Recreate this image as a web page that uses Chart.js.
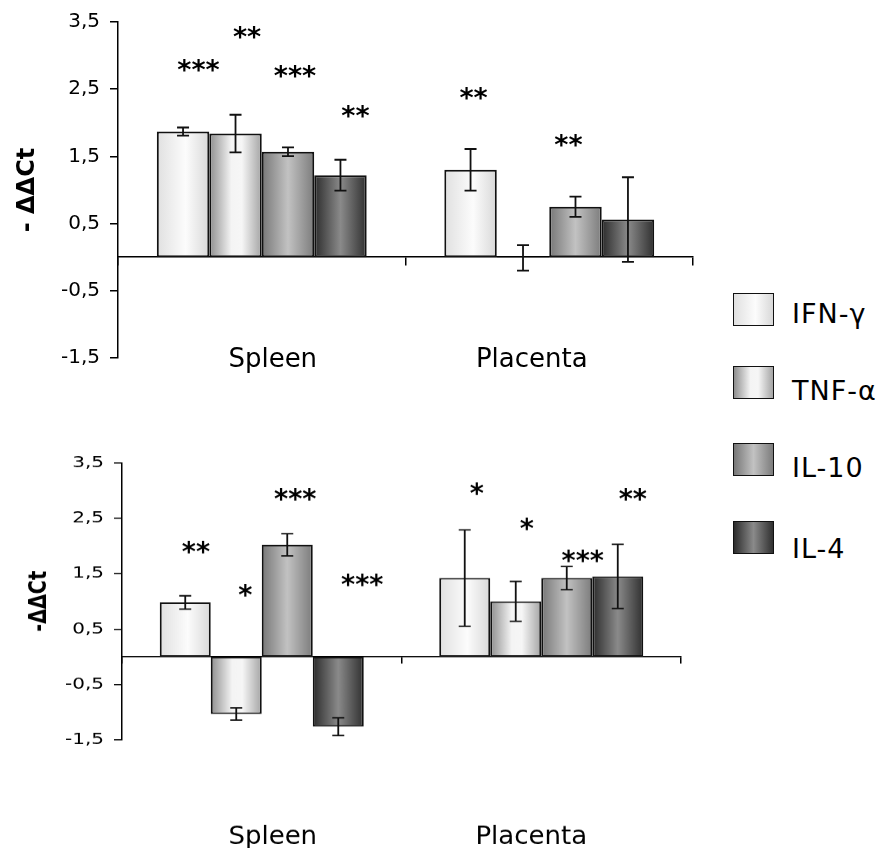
<!DOCTYPE html>
<html>
<head>
<meta charset="utf-8">
<script src="https://cdn.jsdelivr.net/npm/chart.js@4/dist/chart.umd.min.js"></script>
<style>
  html, body { margin: 0; padding: 0; background: #fff; }
  body { width: 878px; height: 848px; position: relative; overflow: hidden; }
  .panel { position: absolute; left: 0; }
  #upperWrap { top: 0; }
  #lowerWrap { top: 440px; transform: scaleY(0.8); transform-origin: 0 0; }
  .key { position: absolute; left: 733px; width: 41px; height: 33px; box-sizing: border-box; border: 1.5px solid #111; }
  .keyText { position: absolute; left: 792px; font: 27px "DejaVu Sans", sans-serif; letter-spacing: 1px; color: #000; line-height: 1; white-space: nowrap; }
</style>
</head>
<body>
<div id="upperWrap" class="panel"><canvas id="upper" width="720" height="380"></canvas></div>
<div id="lowerWrap" class="panel"><canvas id="lower" width="720" height="510"></canvas></div>
<div id="legend"></div>
<script>
// Tissues and cytokines
const tissues = ['Spleen', 'Placenta'];
const cytokines = ['IFN-γ', 'TNF-α', 'IL-10', 'IL-4'];
const yTicksLabel = v => v.toFixed(1).replace('.', ',');

// Upper panel: -ΔΔCt means and error (per tissue)
const upperIFNg = [1.87, 1.30];
const upperTNFa = [1.84, -0.01];
const upperIL10 = [1.57, 0.75];
const upperIL4  = [1.22, 0.56];
const upperIFNgErr = [0.06, 0.31];
const upperTNFaErr = [0.28, 0.19];
const upperIL10Err = [0.065, 0.15];
const upperIL4Err  = [0.23, 0.63];
// significance marks and the value level they sit at
const upperStars  = [['***', '**'], ['**', ''], ['***', '**'], ['**', '']];
const upperStarAt = [[2.86, 2.44], [3.34, 0], [2.76, 1.74], [2.17, 0]];

// Lower panel
const lowerIFNg = [0.98, 1.42];
const lowerTNFa = [-1.03, 1.00];
const lowerIL10 = [2.02, 1.42];
const lowerIL4  = [-1.26, 1.45];
const lowerIFNgErr = [0.12, 0.87];
const lowerTNFaErr = [0.11, 0.36];
const lowerIL10Err = [0.20, 0.21];
const lowerIL4Err  = [0.16, 0.58];
const lowerStars  = [['**', '*'], ['*', '*'], ['***', '***'], ['***', '**']];
const lowerStarAt = [[1.97, 3.03], [1.19, 2.39], [2.93, 1.82], [1.39, 2.92]];

// Horizontal shading for each cytokine's bars
const shades = [
  [[0, '#e0e0e0'], [0.55, '#fcfcfc'], [1, '#d8d8d8']],
  [[0, '#8e8e8e'], [0.42, '#f4f4f4'], [0.62, '#f6f6f6'], [1, '#a4a4a4']],
  [[0, '#777777'], [0.5, '#c2c2c2'], [1, '#7c7c7c']],
  [[0, '#2c2c2c'], [0.5, '#8a8a8a'], [1, '#303030']]
];

const CAT_PCT = 0.73;
const FONT = '"DejaVu Sans", sans-serif';

function shadeFor(di) {
  return (c) => {
    const chart = c.chart, xs = chart.scales.x;
    if (!xs || c.dataIndex === undefined || !xs.width) return shades[di][1][1];
    const n = chart.data.datasets.length;
    const barW = xs.width / chart.data.labels.length * CAT_PCT / n;
    const cx = xs.getPixelForValue(c.dataIndex) + (di - (n - 1) / 2) * barW;
    const g = chart.ctx.createLinearGradient(cx - barW / 2, 0, cx + barW / 2, 0);
    shades[di].forEach(([o, col]) => g.addColorStop(o, col));
    return g;
  };
}

// Error bars, significance marks and tissue names
const overlay = {
  id: 'overlay',
  afterDatasetsDraw(chart, args, o) {
    const {ctx} = chart, y = chart.scales.y, x = chart.scales.x;
    const sq = o.squash || 1;
    ctx.save();
    ctx.strokeStyle = '#111';
    ctx.lineWidth = 1.8;
    chart.data.datasets.forEach((ds, di) => {
      chart.getDatasetMeta(di).data.forEach((bar, i) => {
        const v = ds.data[i], e = o.errors[di][i];
        const a = y.getPixelForValue(v + e), b = y.getPixelForValue(v - e);
        ctx.beginPath();
        ctx.moveTo(bar.x, a); ctx.lineTo(bar.x, b);
        ctx.moveTo(bar.x - 6, a); ctx.lineTo(bar.x + 6, a);
        ctx.moveTo(bar.x - 6, b); ctx.lineTo(bar.x + 6, b);
        ctx.stroke();
      });
    });
    ctx.fillStyle = '#000';
    ctx.font = 'bold 27px ' + FONT;
    ctx.textAlign = 'center';
    ctx.textBaseline = 'alphabetic';
    chart.data.datasets.forEach((ds, di) => {
      chart.getDatasetMeta(di).data.forEach((bar, i) => {
        const s = o.stars[di][i];
        if (!s) return;
        const m = ctx.measureText(s);
        const px = bar.x + o.starDx[di][i], py = y.getPixelForValue(o.starAt[di][i]);
        ctx.save();
        ctx.translate(px, py);
        ctx.scale(1, 1 / sq);
        ctx.fillText(s, 0, (m.actualBoundingBoxAscent - m.actualBoundingBoxDescent) / 2);
        ctx.restore();
      });
    });
    ctx.font = '26px ' + FONT;
    chart.data.labels.forEach((lab, i) => {
      ctx.save();
      ctx.translate(x.getPixelForValue(i) + o.labelDx[i], chart.chartArea.bottom + o.labelGap / sq);
      ctx.scale(1, 1 / sq);
      ctx.fillText(lab, 0, 0);
      ctx.restore();
    });
    ctx.restore();
  }
};

function makePanel(id, series, errors, stars, starAt, starDx, labelDx, cfg) {
  return new Chart(document.getElementById(id), {
    type: 'bar',
    data: {
      labels: tissues,
      datasets: series.map((d, di) => ({
        label: cytokines[di],
        data: d,
        backgroundColor: shadeFor(di),
        borderColor: '#111',
        borderWidth: 2,
        borderSkipped: false,
        categoryPercentage: CAT_PCT,
        barPercentage: 1
      }))
    },
    options: {
      responsive: false,
      animation: false,
      devicePixelRatio: 1,
      layout: { padding: cfg.padding },
      plugins: {
        legend: { display: false },
        tooltip: { enabled: false },
        overlay: { errors, stars, starAt, starDx, labelDx, labelGap: cfg.labelGap, squash: cfg.squash }
      },
      scales: {
        x: {
          position: { y: 0 },
          offset: true,
          grid: { display: true, drawOnChartArea: false, offset: true, tickLength: 8, color: '#000', lineWidth: 1.5 },
          border: { display: true, color: '#000', width: 1.5 },
          ticks: { display: false }
        },
        y: {
          min: -1.5, max: 3.5,
          afterFit: s => { s.width = cfg.axisWidth; },
          ticks: { stepSize: 1, callback: yTicksLabel, color: '#000', padding: 10, font: { family: FONT, size: 20 } },
          grid: { drawOnChartArea: false, tickLength: 8, color: '#000', lineWidth: 1.5 },
          border: { display: true, color: '#000', width: 1.5 },
          title: {
            display: true, text: cfg.title, color: '#000',
            font: { family: FONT, size: 24, weight: 'bold' },
            padding: { top: cfg.titlePad, bottom: 0 }
          }
        }
      }
    },
    plugins: [overlay]
  });
}

makePanel('upper',
  [upperIFNg, upperTNFa, upperIL10, upperIL4],
  [upperIFNgErr, upperTNFaErr, upperIL10Err, upperIL4Err],
  upperStars, upperStarAt,
  [[15.5, 3], [11.5, 0], [7, -7], [15, 0]],
  [11, -17.5],
  { padding: { left: 0, top: 20, right: 27, bottom: 22 }, axisWidth: 118, title: '- ΔΔCt', titlePad: 13, labelGap: 9, squash: 1 });

makePanel('lower',
  [lowerIFNg, lowerTNFa, lowerIL10, lowerIL4],
  [lowerIFNgErr, lowerTNFaErr, lowerIL10Err, lowerIL4Err],
  lowerStars, lowerStarAt,
  [[10.7, 12], [9, 11], [8, 16], [24, 15]],
  [11, -10],
  { padding: { left: 0, top: 28.4, right: 39, bottom: 135 }, axisWidth: 122, title: '-ΔΔCt', titlePad: 25, labelGap: 104, squash: 0.8 });

// Legend swatches built from the same shading
const legend = document.getElementById('legend');
const keyTops = [293, 366, 443, 521];
const textTops = [300, 377, 454, 535];
cytokines.forEach((name, i) => {
  const box = document.createElement('div');
  box.className = 'key';
  box.style.top = keyTops[i] + 'px';
  box.style.background = 'linear-gradient(to right, ' + shades[i].map(([o, c]) => c + ' ' + (o * 100) + '%').join(', ') + ')';
  legend.appendChild(box);
  const t = document.createElement('div');
  t.className = 'keyText';
  t.style.top = textTops[i] + 'px';
  t.textContent = name;
  legend.appendChild(t);
});
</script>
</body>
</html>
